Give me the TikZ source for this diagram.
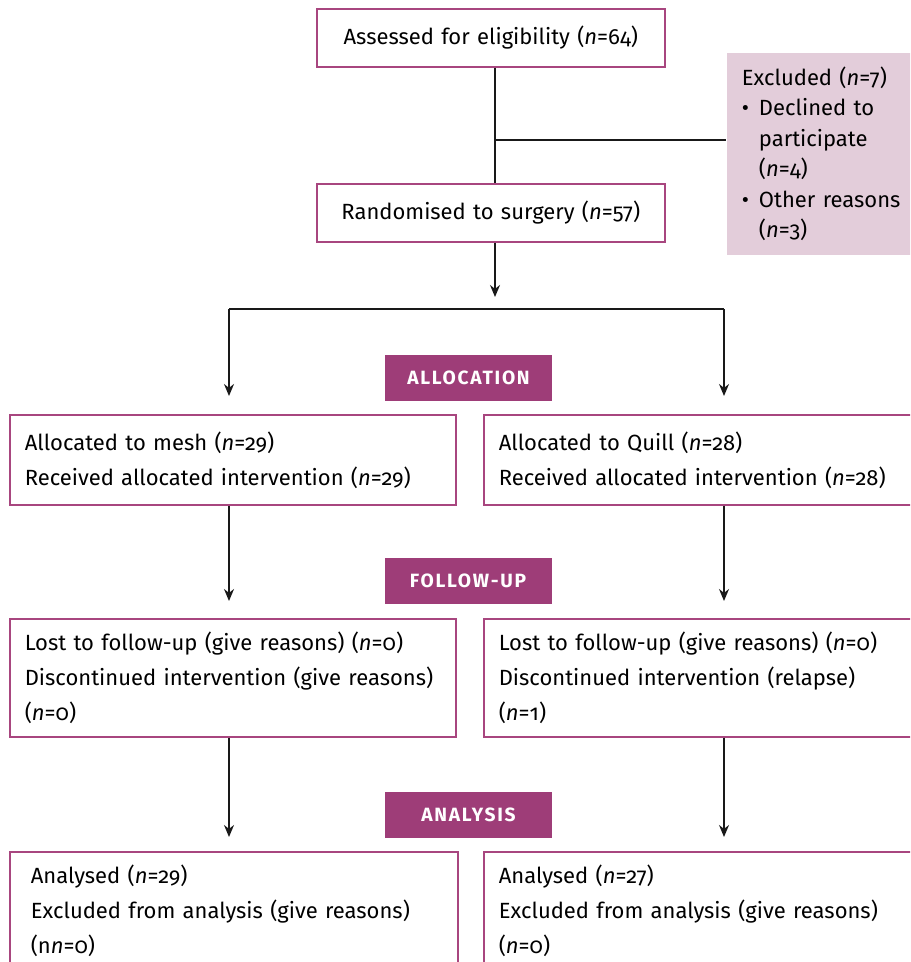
\documentclass[tikz,border=0pt]{standalone}
\usepackage{fontspec}
\setmainfont{Fira Sans}[Numbers=OldStyle]
\usetikzlibrary{calc,arrows.meta}
\definecolor{plum}{HTML}{9E3D78}
\definecolor{plumline}{HTML}{A8467F}
\definecolor{plumpale}{HTML}{E3CDDA}

\begin{document}
\begin{tikzpicture}[>={Stealth[length=6pt,width=5pt]},x=0.5pt,y=-0.5pt,
                        box/.style={draw=plumline,line width=0.8pt,anchor=north west,align=left,
                            inner xsep=7.5pt,inner ysep=0pt,text width=208pt,
                            font=\fontsize{11}{17.5}\selectfont},
                        stage/.style={fill=plum,text=white,minimum width=83.5pt,minimum height=23pt,
                            inner sep=0pt,font=\fontsize{9.6}{11}\selectfont\bfseries\addfontfeature{LetterSpace=9}},
                        link/.style={line width=0.7pt,draw=black!90}]
                        \clip (0,0) rectangle (910,962);
                        \node[box,align=center,text width=159pt,minimum height=29pt] (assess) at (316,8)
                            {Assessed for eligibility (\textit{n}=64)};
                        \node[box,align=center,text width=159pt,minimum height=29pt] (rand) at (316,183)
                            {Randomised to surgery (\textit{n}=57)};
                        \node[box,draw=none,fill=plumpale,text width=100pt,minimum height=101pt,
                            font=\fontsize{11}{15.2}\selectfont] (excl) at (726,52)
                            {Excluded (\textit{n}=7)\\
                             \textbullet\hspace{5pt}Declined to\\
                             \hphantom{\textbullet\hspace{5pt}}participate\\
                             \hphantom{\textbullet\hspace{5pt}}(\textit{n}=4)\\
                             \textbullet\hspace{5pt}Other reasons\\
                             \hphantom{\textbullet\hspace{5pt}}(\textit{n}=3)};
                        \node[stage] (alloc) at (468.5,378) {ALLOCATION};
                        \node[stage] (follow) at (468,580.5) {FOLLOW-UP};
                        \node[stage] (analysis) at (468.5,815) {ANALYSIS};
                        \node[box,minimum height=45pt] (mesh) at (9,414)
                            {Allocated to mesh (\textit{n}=29)\\
                             Received allocated intervention (\textit{n}=29)};
                        \node[box,minimum height=45pt] (quill) at (483,414)
                            {Allocated to Quill (\textit{n}=28)\\
                             Received allocated intervention (\textit{n}=28)};
                        \node[box,minimum height=59pt] (lostM) at (9,618)
                            {Lost to follow-up (give reasons) (\textit{n}=0)\\
                             Discontinued intervention (give reasons)\\
                             (\textit{n}=0)};
                        \node[box,minimum height=59pt] (lostQ) at (483,618)
                            {Lost to follow-up (give reasons) (\textit{n}=0)\\
                             Discontinued intervention (relapse)\\
                             (\textit{n}=1)};
                        \node[box,minimum height=59pt,inner xsep=10.5pt,text width=203pt] (anaM) at (9,851)
                            {Analysed (\textit{n}=29)\\
                             Excluded from analysis (give reasons)\\
                             (n\textit{n}=0)};
                        \node[box,minimum height=59pt] (anaQ) at (483,851)
                            {Analysed (\textit{n}=27)\\
                             Excluded from analysis (give reasons)\\
                             (\textit{n}=0)};
                        \coordinate (spine) at (495,0);
                        \coordinate (branch) at (495,140);
                        \coordinate (split) at (0,309);
                        \coordinate (colL) at (229,0);
                        \coordinate (colR) at (724,0);
                        \draw[link] (assess.south -| spine) -- (rand.north -| spine);
                        \draw[link] (branch) -- (branch -| excl.west);
                        \draw[link,->,shorten >=6pt] (rand.south -| spine) -- (spine |- split);
                        \draw[link] (colL |- split) -- (colR |- split);
                        \draw[link,->,shorten >=9pt] (colL |- split) -- (colL |- mesh.north);
                        \draw[link,->,shorten >=9pt] (colR |- split) -- (colR |- quill.north);
                        \draw[link,->,shorten >=8.5pt] (colL |- mesh.south) -- (colL |- lostM.north);
                        \draw[link,->,shorten >=8.5pt] (colR |- quill.south) -- (colR |- lostQ.north);
                        \draw[link,->,shorten >=7pt] (colL |- lostM.south) -- (colL |- anaM.north);
                        \draw[link,->,shorten >=7pt] (colR |- lostQ.south) -- (colR |- anaQ.north);
                    \end{tikzpicture}
\end{document}
